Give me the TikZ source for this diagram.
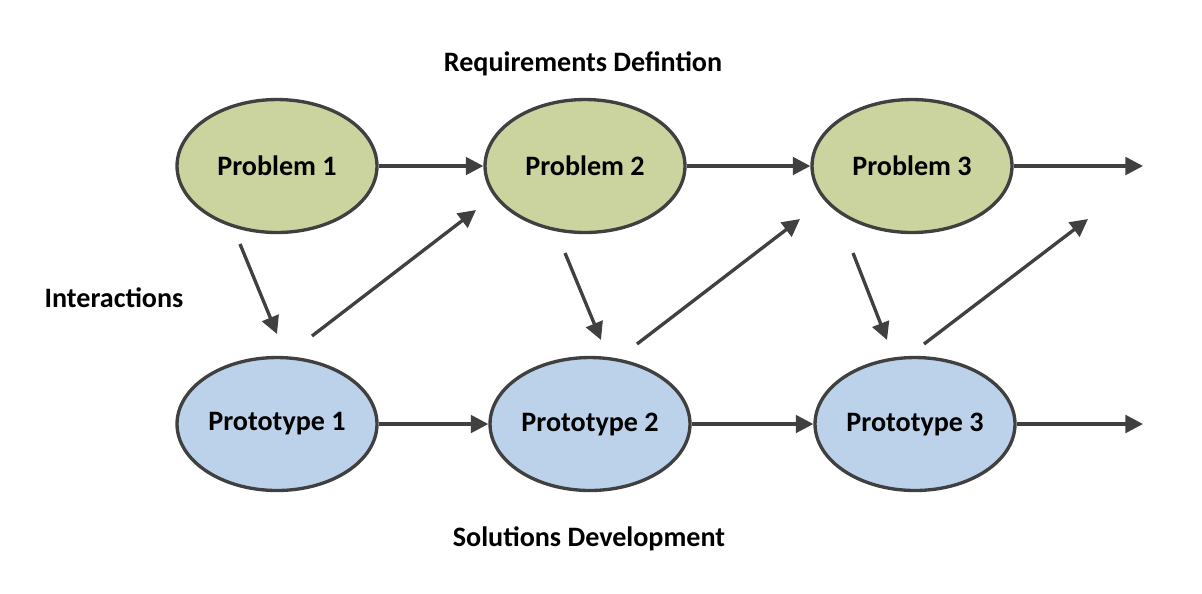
\documentclass[tikz,border=0pt]{standalone}
\usepackage{fontspec}
\setmainfont{Carlito}
\usetikzlibrary{arrows.meta,shapes.geometric}
\definecolor{probfill}{RGB}{203,212,158}
\definecolor{protofill}{RGB}{187,210,234}
\definecolor{edge}{RGB}{64,64,64}
\tikzset{
  px/.style={x=0.02cm,y=-0.02cm},
  ell/.style={ellipse, draw=edge, line width=1.9pt, minimum width=4cm, minimum height=2.66cm, inner sep=0pt, font=\fontsize{16}{18}\selectfont\bfseries},
  prob/.style={ell, fill=probfill},
  proto/.style={ell, fill=protofill},
  conn/.style={draw=edge, line width=1.9pt, -{Triangle[length=10pt,width=10pt]}},
  lbl/.style={font=\fontsize{16}{18}\selectfont\bfseries, text=black, inner sep=0pt}
}
\begin{document}
\begin{tikzpicture}[px]
\useasboundingbox (0,0) rectangle (1202,593);
\node[prob] (p1) at (277,166) {Problem 1};
\node[prob] (p2) at (585,166) {Problem 2};
\node[prob] (p3) at (912,166) {Problem 3};
\node[proto] (q1) at (277,424) {Prototype 1};
\node[proto] (q2) at (590,424) {Prototype 2};
\node[proto] (q3) at (915,424) {Prototype 3};
\node[lbl] (t1) at (583,64) {Requirements Defintion};
\node[lbl] (t2) at (114,298) {Interactions};
\node[lbl] (t3) at (589,539) {Solutions Development};
\coordinate (e1) at (1143,166);
\coordinate (e2) at (1143,424);
\coordinate (a1) at (240,244);
\coordinate (b1) at (277,334);
\coordinate (a2) at (565,253);
\coordinate (b2) at (601,340);
\coordinate (a3) at (853,253);
\coordinate (b3) at (887,340);
\coordinate (c1) at (312,336);
\coordinate (d1) at (476,210);
\coordinate (c2) at (637,344);
\coordinate (d2) at (800,219);
\coordinate (c3) at (924,344);
\coordinate (d3) at (1088,219);
\draw[conn] (p1) -- (p2);
\draw[conn] (p2) -- (p3);
\draw[conn] (p3.east) -- (e1);
\draw[conn] (q1) -- (q2);
\draw[conn] (q2) -- (q3);
\draw[conn] (q3.east) -- (e2);
\draw[conn] (a1) -- (b1);
\draw[conn] (a2) -- (b2);
\draw[conn] (a3) -- (b3);
\draw[conn] (c1) -- (d1);
\draw[conn] (c2) -- (d2);
\draw[conn] (c3) -- (d3);
\end{tikzpicture}
\end{document}
